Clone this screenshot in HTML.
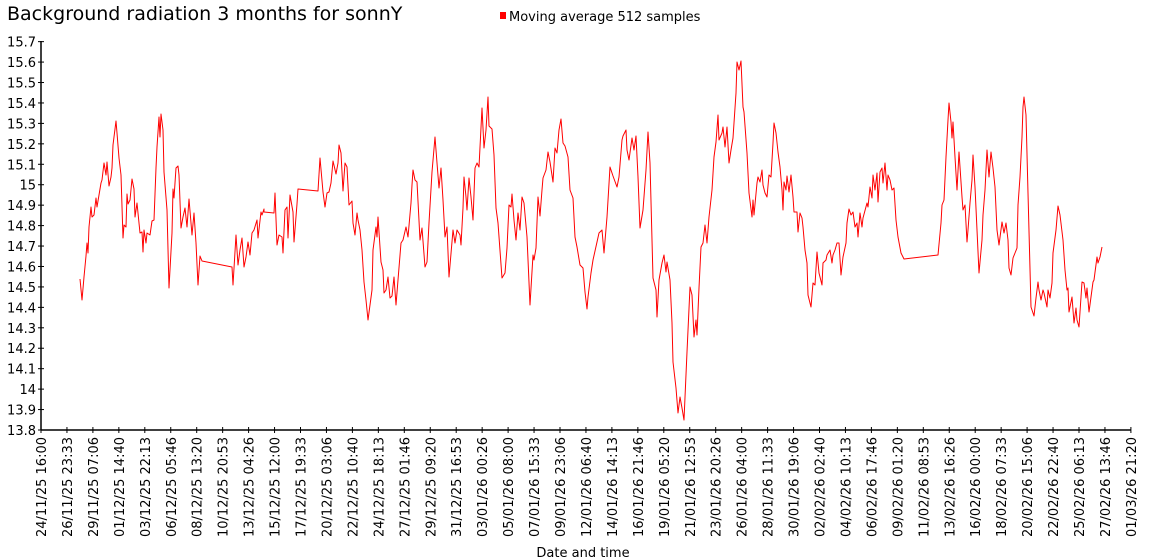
<!DOCTYPE html>
<html><head><meta charset="utf-8"><style>
body{margin:0;background:#fff;}
svg{display:block;font-family:"DejaVu Sans","Liberation Sans",sans-serif;}
</style></head><body>
<svg width="1150" height="560" xmlns="http://www.w3.org/2000/svg">
<rect width="1150" height="560" fill="#fff"/>
<text x="7" y="20" font-size="19" fill="#000">Background radiation 3 months for sonnY</text>
<rect x="500" y="12" width="6" height="7" fill="#f00"/>
<text x="509" y="21" font-size="13" fill="#000">Moving average 512 samples</text>
<g stroke="#000" stroke-width="1.5" fill="none">
<line x1="41" y1="41" x2="41" y2="430"/>
<line x1="41" y1="430" x2="1131" y2="430"/>
</g>
<g id="yt" font-size="13" text-anchor="end" fill="#000"></g>
<g id="xt" font-size="13" fill="#000"></g>
<text x="583" y="557" font-size="13" text-anchor="middle">Date and time</text>
<polyline id="ser" fill="none" stroke="#f00" stroke-width="1" stroke-linejoin="round" points="80,279 82,300 84,277 86,256 87,243 88,253 89,227 91,207 92,217 94,215 96,198 97,207 99,195 101,183 102,180 104,163 106,175 107,162 109,186 111,177 112,168 113,145 116,121 117,133 119,158 121,175 123,238 124,225 126,227 127,194 128,204 130,200 132,179 134,189 135,217 137,203 140,233 142,232 143,252 144,230 146,243 147,233 150,235 152,221 154,220 156,168 157,147 159,117 160,137 161,114 163,130 164,172 167,210 169,288 172,233 173,189 174,198 176,168 178,166 179,175 181,228 183,217 185,208 187,227 189,199 192,235 194,213 196,243 198,285 200,256 202,261 232,267 233,285 236,235 238,265 240,250 242,238 244,267 246,257 248,242 250,255 252,233 254,230 257,220 258,238 261,212 262,215 264,209 264,212 274,213 275,193 277,245 279,235 282,237 283,253 285,210 287,207 288,238 290,195 293,212 294,242 297,204 298,189 318,191 320,158 323,192 325,207 327,193 329,192 331,183 333,161 336,174 338,163 339,145 341,153 343,191 345,163 347,167 349,205 352,201 353,223 355,235 357,213 358,220 360,230 362,250 364,282 366,300 368,320 370,305 372,290 373,250 376,227 377,237 378,217 381,262 383,270 384,293 386,290 388,277 390,298 392,296 394,277 396,305 398,280 401,243 403,240 406,227 408,237 411,203 412,185 413,170 415,180 417,182 420,240 422,228 425,267 427,262 429,223 432,172 435,137 437,163 439,188 441,168 443,200 445,237 447,227 449,277 453,230 455,243 457,230 460,235 461,245 463,208 464,177 466,197 467,210 469,178 471,197 473,220 475,168 477,163 479,167 482,108 484,148 486,130 488,97 489,126 492,129 494,155 496,208 498,223 502,278 505,273 507,248 509,205 511,207 512,194 514,220 516,240 518,213 520,230 522,197 524,203 527,237 530,305 533,255 534,260 536,248 538,197 540,216 542,190 543,178 546,170 548,152 550,162 553,182 555,148 557,153 559,130 561,119 563,143 565,146 568,157 570,190 573,198 575,237 577,247 580,265 583,268 585,292 587,309 588,297 591,273 593,260 597,242 599,233 602,230 604,253 607,217 610,167 613,176 617,187 619,177 622,140 623,136 626,130 627,150 629,160 632,138 634,150 636,136 638,177 640,228 643,210 646,170 648,132 650,163 652,240 653,278 656,290 657,317 659,280 662,263 664,255 666,272 667,262 670,280 672,323 673,362 676,388 678,413 680,397 682,408 684,420 687,352 690,287 692,295 694,337 696,320 697,335 699,288 701,247 703,243 705,225 707,243 709,217 712,190 714,157 716,142 718,115 719,140 722,133 723,127 725,147 727,127 729,163 731,150 733,138 736,93 737,62 739,70 741,61 743,107 744,112 747,153 749,193 752,217 753,200 754,215 757,183 758,177 760,182 762,170 763,185 765,193 767,197 769,175 771,177 773,143 774,123 776,133 778,152 780,167 782,190 783,210 784,182 786,190 787,176 789,192 791,175 793,197 794,212 797,212 798,232 800,213 802,218 803,227 805,250 807,263 808,295 811,307 813,283 815,285 817,252 819,273 822,285 823,263 826,260 827,255 830,250 832,263 833,255 835,250 837,243 839,243 841,275 843,257 846,243 847,223 849,209 851,215 853,212 855,227 857,223 858,237 860,213 862,227 863,218 867,203 868,207 870,187 872,198 873,175 875,190 877,173 878,202 880,172 882,168 883,183 885,163 887,190 888,175 890,180 892,190 894,188 896,220 898,237 901,253 904,259 938,255 941,223 942,205 944,200 946,157 948,120 949,103 951,122 952,138 953,122 955,157 957,190 959,152 962,197 963,210 965,205 967,242 968,230 970,203 972,180 973,155 975,187 977,230 979,273 982,240 983,215 985,190 987,150 989,177 991,152 993,168 995,187 997,230 999,245 1002,222 1004,233 1006,223 1008,240 1009,268 1011,275 1013,258 1015,253 1017,248 1018,205 1020,177 1022,137 1023,107 1024,97 1026,115 1028,193 1031,307 1032,310 1034,316 1036,298 1038,282 1039,290 1041,300 1043,290 1044,293 1047,307 1048,290 1050,298 1052,283 1053,253 1056,230 1058,206 1060,215 1063,240 1065,270 1067,290 1068,288 1069,312 1072,297 1074,323 1076,308 1077,320 1079,327 1082,282 1084,283 1086,298 1087,288 1089,312 1091,297 1093,282 1094,280 1097,257 1098,263 1100,257 1102,247"/>
</svg>
<script>
var ns="http://www.w3.org/2000/svg",s=document.querySelector('svg');
var yt=document.getElementById('yt'),xt=document.getElementById('xt');
function el(t,a,p,txt){var e=document.createElementNS(ns,t);for(var k in a)e.setAttribute(k,a[k]);if(txt)e.textContent=txt;p.appendChild(e);return e;}
var yl=["13.8","13.9","14","14.1","14.2","14.3","14.4","14.5","14.6","14.7","14.8","14.9","15","15.1","15.2","15.3","15.4","15.5","15.6","15.7"];
for(var i=0;i<20;i++){var y=430-i*20.44;el('text',{x:36,y:y+5},yt,yl[i]);el('line',{x1:38,y1:y,x2:44,y2:y,stroke:'#000'},s);}
var xl=["24/11/25 16:00","26/11/25 23:33","29/11/25 07:06","01/12/25 14:40","03/12/25 22:13","06/12/25 05:46","08/12/25 13:20","10/12/25 20:53","13/12/25 04:26","15/12/25 12:00","17/12/25 19:33","20/12/25 03:06","22/12/25 10:40","24/12/25 18:13","27/12/25 01:46","29/12/25 09:20","31/12/25 16:53","03/01/26 00:26","05/01/26 08:00","07/01/26 15:33","09/01/26 23:06","12/01/26 06:40","14/01/26 14:13","16/01/26 21:46","19/01/26 05:20","21/01/26 12:53","23/01/26 20:26","26/01/26 04:00","28/01/26 11:33","30/01/26 19:06","02/02/26 02:40","04/02/26 10:13","06/02/26 17:46","09/02/26 01:20","11/02/26 08:53","13/02/26 16:26","16/02/26 00:00","18/02/26 07:33","20/02/26 15:06","22/02/26 22:40","25/02/26 06:13","27/02/26 13:46","01/03/26 21:20"];
for(var j=0;j<43;j++){var x=41+j*25.95;el('line',{x1:x,y1:427,x2:x,y2:433,stroke:'#000'},s);
el('text',{x:0,y:0,'text-anchor':'end',transform:'translate('+(x+5)+',437) rotate(-90)'},xt,xl[j]);}
</script>
</body></html>
